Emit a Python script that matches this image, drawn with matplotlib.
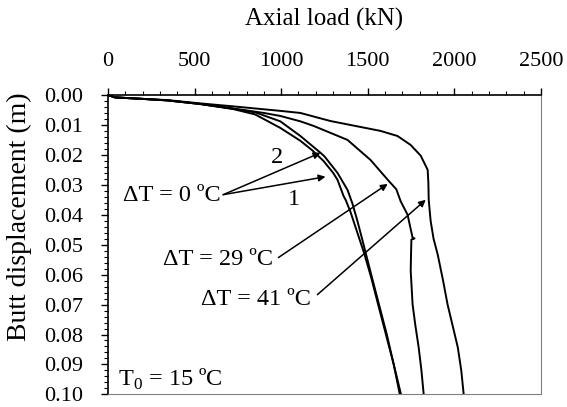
import matplotlib.pyplot as plt
from matplotlib.ticker import MultipleLocator, FormatStrFormatter

plt.rcParams['font.family'] = ['Liberation Serif', 'DejaVu Serif']
plt.rcParams['mathtext.fontset'] = 'custom'
plt.rcParams['mathtext.rm'] = 'Liberation Serif'

# --- Data ---
# dT = 0 C, test 1
load_0a = [0, 40, 200, 341, 532, 723, 850, 995, 1111, 1180, 1244, 1300, 1325, 1360, 1372,
           1400, 1440, 1480, 1520, 1560, 1605, 1650, 1692]
disp_0a = [0, 0.0008, 0.0013, 0.0018, 0.003, 0.0047, 0.0065, 0.011, 0.0153, 0.0185, 0.022,
           0.026, 0.0283, 0.0337, 0.035, 0.039, 0.046, 0.053, 0.061, 0.070, 0.080, 0.090, 0.100]
# dT = 0 C, test 2
load_0b = [0, 40, 200, 341, 532, 723, 850, 995, 1111, 1227, 1250, 1325, 1383, 1410, 1440,
           1476, 1520, 1565, 1610, 1650, 1685]
disp_0b = [0, 0.0008, 0.0013, 0.0018, 0.003, 0.0046, 0.0058, 0.0088, 0.0137, 0.0193, 0.0205,
           0.026, 0.0317, 0.036, 0.042, 0.050, 0.060, 0.070, 0.080, 0.090, 0.100]
# dT = 29 C
load_29 = [0, 40, 200, 341, 532, 723, 900, 995, 1111, 1186, 1383, 1516, 1615, 1665, 1690,
           1730, 1745, 1759, 1770, 1752, 1750, 1748, 1759, 1775, 1794, 1810, 1823]
disp_29 = [0, 0.0008, 0.0013, 0.0018, 0.003, 0.0045, 0.006, 0.007, 0.0088, 0.0103, 0.015,
           0.0217, 0.0283, 0.0315, 0.0355, 0.040, 0.044, 0.0477, 0.0479, 0.0483, 0.053,
           0.0587, 0.070, 0.077, 0.0843, 0.092, 0.100]
# dT = 41 C
load_41 = [0, 40, 200, 341, 532, 723, 995, 1111, 1285, 1574, 1672, 1748, 1806, 1846, 1850,
           1852, 1863, 1880, 1904, 1935, 1961, 1990, 2020, 2040, 2054]
disp_41 = [0, 0.0008, 0.0013, 0.0017, 0.0028, 0.0038, 0.0053, 0.006, 0.0087, 0.012, 0.0137,
           0.0167, 0.0203, 0.025, 0.0293, 0.035, 0.042, 0.048, 0.0533, 0.062, 0.070, 0.077,
           0.0843, 0.092, 0.100]

fig = plt.figure(figsize=(5.67, 4.07), dpi=100)
ax = fig.add_axes([0.1905, 0.031, 0.7635, 0.7356])

for x, y in [(load_0a, disp_0a), (load_0b, disp_0b), (load_29, disp_29), (load_41, disp_41)]:
    ax.plot(x, y, color='black', linewidth=1.4)

ax.set_xlim(0, 2500)
ax.set_ylim(0.10, 0.0)

# x axis on top
ax.xaxis.set_ticks_position('top')
ax.xaxis.set_label_position('top')
ax.xaxis.set_major_locator(MultipleLocator(500))
ax.xaxis.set_minor_locator(MultipleLocator(100))
ax.yaxis.set_major_locator(MultipleLocator(0.01))
ax.yaxis.set_minor_locator(MultipleLocator(0.002))
ax.yaxis.set_major_formatter(FormatStrFormatter('%.2f'))
ax.tick_params(which='major', direction='out', length=5, width=1, labelsize=16, pad=12)
ax.tick_params(which='minor', direction='out', length=3, width=0.8)
ax.tick_params(axis='y', which='major', pad=13)

ax.set_xlabel('Axial load (kN)', fontsize=18, labelpad=19)
ax.set_ylabel('Butt displacement (m)', fontsize=20)
ax.yaxis.set_label_coords(-0.176, 0.594)

for side in ['right', 'bottom']:
    ax.spines[side].set_color('#808080')
for side in ['top', 'left']:
    ax.spines[side].set_linewidth(1.2)

# Annotations
fs = 17.5
arrow = dict(arrowstyle='-|>', color='black', lw=1.1, mutation_scale=10, shrinkA=0, shrinkB=0)
ax.text(648, 0.0337, 'ΔT = 0 ºC', fontsize=fs, ha='right', va='center')
ax.annotate('', xy=(1227, 0.0193), xytext=(665, 0.0333), arrowprops=arrow)
ax.annotate('', xy=(1256, 0.0273), xytext=(665, 0.0333), arrowprops=arrow)
ax.text(978, 0.021, '2', fontsize=fs, ha='center', va='center')
ax.text(1071, 0.035, '1', fontsize=fs, ha='center', va='center')

ax.text(955, 0.055, 'ΔT = 29 ºC', fontsize=fs, ha='right', va='center')
ax.annotate('', xy=(1615, 0.0297), xytext=(984, 0.0543), arrowprops=arrow)

ax.text(1169, 0.0683, 'ΔT = 41 ºC', fontsize=fs, ha='right', va='center')
ax.annotate('', xy=(1835, 0.035), xytext=(1209, 0.0667), arrowprops=arrow)

ax.text(58, 0.095, r'T$_\mathrm{0}$ = 15 ºC', fontsize=fs, ha='left', va='center')

fig.savefig('out.png', dpi=100)
